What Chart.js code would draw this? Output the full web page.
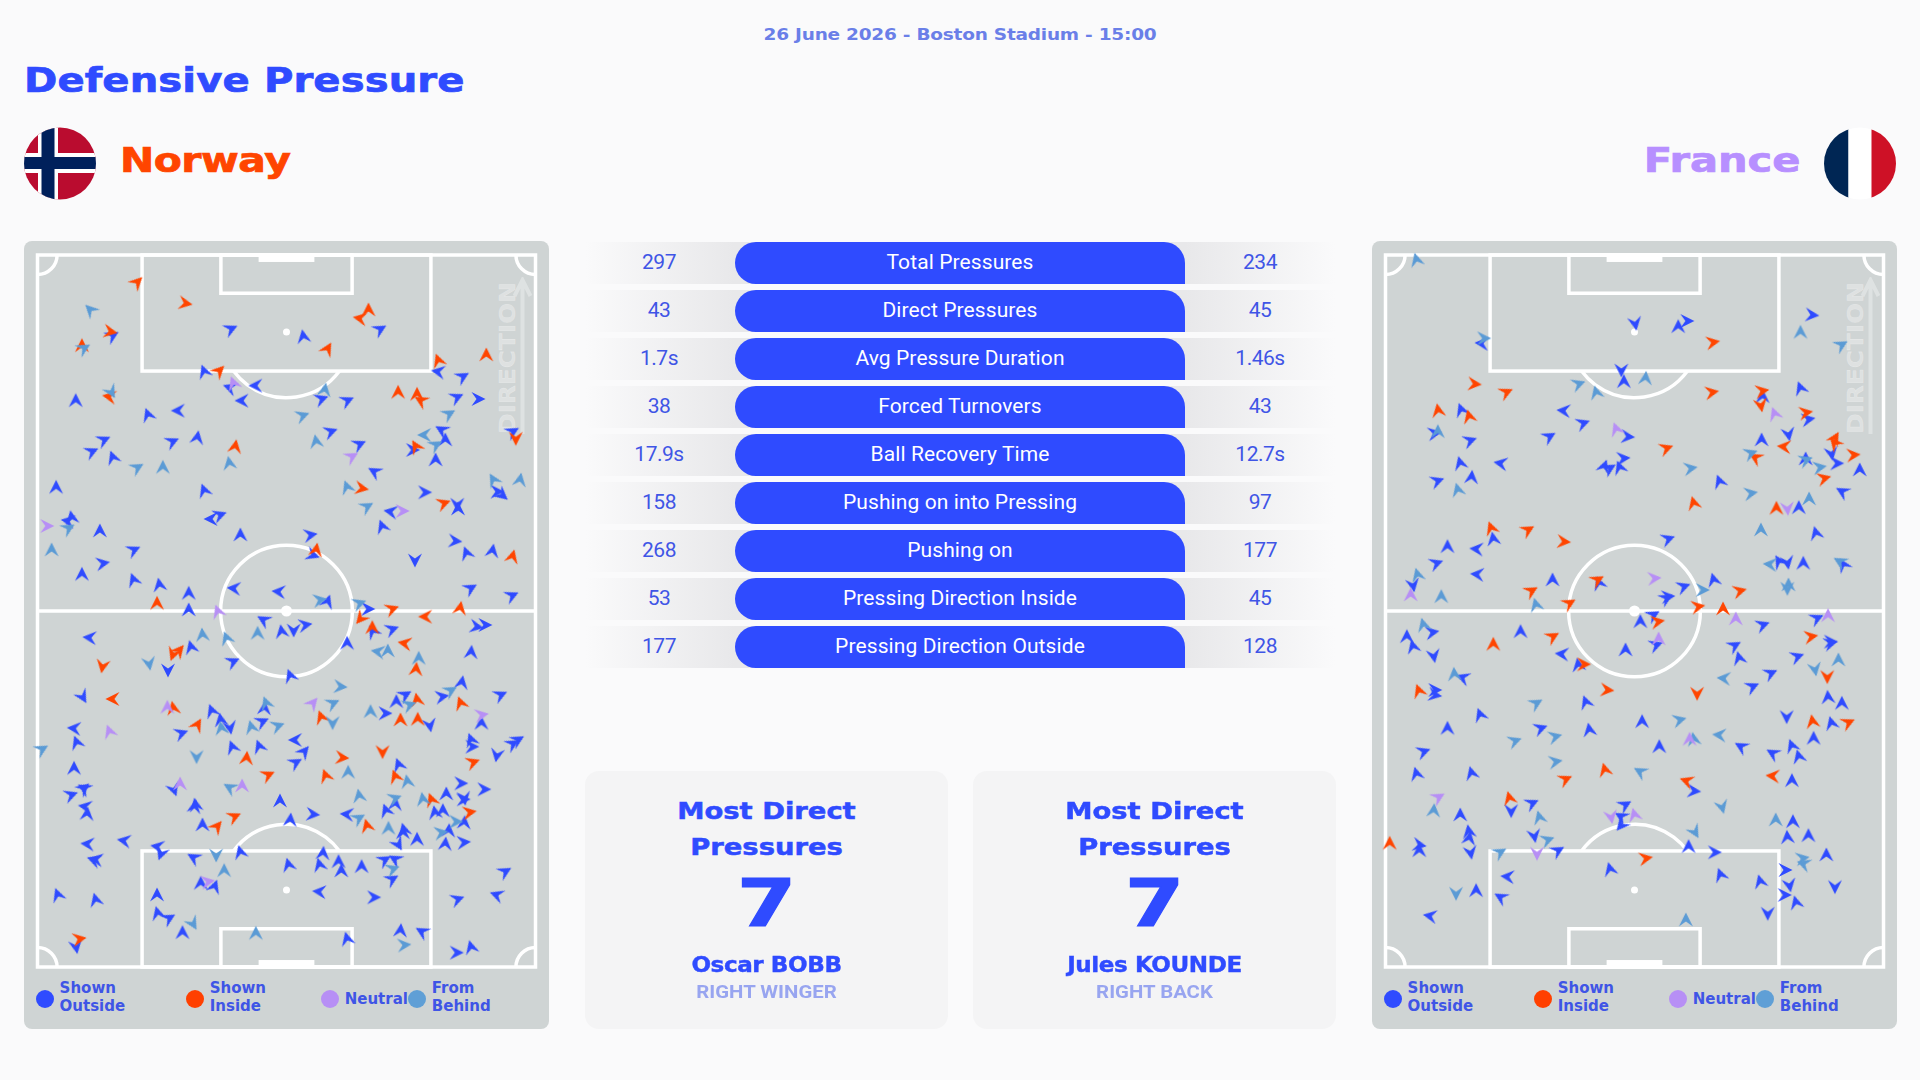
<!DOCTYPE html>
<html>
<head>
<meta charset="utf-8">
<title>Defensive Pressure</title>
<script src="https://cdn.jsdelivr.net/npm/chart.js@4"></script>
<style>
  html, body { margin: 0; width: 1920px; height: 1080px; background: #fafafb; overflow: hidden; }
  body { position: relative; font-family: "DejaVu Sans", sans-serif; color: #2f4bff; }
  .abs { position: absolute; white-space: nowrap; }
  #date { left: 0; width: 1920px; top: 23.5px; line-height: 22px; text-align: center; font-size: 16.5px; font-weight: 700; color: #6a7fe8; letter-spacing: -0.2px; transform: scaleX(1.12); }
  #title { left: 24px; top: 58px; line-height: 44px; font-size: 34px; font-weight: 700; letter-spacing: 0.1px; transform: scaleX(1.18); transform-origin: left; -webkit-text-stroke: 0.7px #2f4bff; }
  .team { top: 139px; line-height: 44px; font-size: 33px; font-weight: 700; }
  #teamA { left: 120px; color: #ff4500; letter-spacing: -0.4px; transform: scaleX(1.24); transform-origin: left; -webkit-text-stroke: 0.7px #ff4500; }
  #teamB { right: 120px; color: #b78fff; transform: scaleX(1.26); transform-origin: right; -webkit-text-stroke: 0.7px #b78fff; }
  .flag { position: absolute; top: 127px; width: 72px; height: 73px; }
  .panel { position: absolute; top: 241px; width: 525px; height: 788px; background: #cfd4d4; border-radius: 8px; }
  .panel canvas { position: absolute; left: 0; top: 0; }
  .dir { position: absolute; left: 409px; top: 107px; width: 150px; height: 20px; line-height: 20px; text-align: center; font-size: 22px; font-weight: 700; color: rgba(255,255,255,0.32); -webkit-text-stroke: 0.5px rgba(255,255,255,0.32); transform: rotate(-90deg) scaleX(1.11); white-space: nowrap; letter-spacing: 0.2px; }
  .dirArrow { position: absolute; left: 489px; top: 36px; }
  .lg { position: absolute; font-size: 15px; line-height: 18px; font-weight: 700; color: #3f55e6; white-space: nowrap; }
  .dot { position: absolute; width: 18px; height: 18px; border-radius: 50%; top: 749px; }
  .row { position: absolute; left: 585px; width: 750px; height: 42px;
    background: linear-gradient(90deg, rgba(232,232,234,0) 0, #e8e8ea 150px, #e8e8ea 600px, rgba(232,232,234,0) 750px); }
  .pill { position: absolute; left: 150px; width: 450px; height: 42px; background: #2f4bff; color: #fff; text-align: center; border-radius: 21px 21px 0 21px; font: 400 21px/40px Roboto, sans-serif; letter-spacing: 0.1px; }
  .val { position: absolute; width: 100px; text-align: center; font: 400 21px/40px Roboto, sans-serif; color: #3f55e6; letter-spacing: -0.5px; }
  .card { position: absolute; top: 771px; width: 363px; height: 258px; background: #f4f4f5; border-radius: 14px; text-align: center; }
  .card div { position: absolute; left: 0; width: 100%; white-space: nowrap; }
  .cHead { font-size: 23px; font-weight: 700; line-height: 36px; transform: scaleX(1.19); -webkit-text-stroke: 0.5px #2f4bff; }
  .cNum { top: 88px; font: 700 66px/90px "DejaVu Sans", sans-serif; transform: scaleX(1.3); -webkit-text-stroke: 1px #2f4bff; }
  .cName { top: 179px; line-height: 30px; font-size: 21px; font-weight: 700; letter-spacing: -0.4px; transform: scaleX(1.1); -webkit-text-stroke: 0.4px #2f4bff; }
  .cRole { top: 209px; font: 700 18px/24px Roboto, sans-serif; color: #98a5f0; transform: scaleX(1.13); }
</style>
</head>
<body>
<div class="abs" id="date">26 June 2026 - Boston Stadium - 15:00</div>
<div class="abs" id="title">Defensive Pressure</div>

<svg class="flag" style="left:24px" viewBox="0 0 72 73">
  <defs><clipPath id="flagA"><circle cx="36" cy="36.5" r="36"/></clipPath></defs>
  <g clip-path="url(#flagA)">
    <rect width="72" height="73" fill="#ba0c2f"/>
    <rect x="14" width="20" height="73" fill="#fff"/>
    <rect y="26" width="72" height="20" fill="#fff"/>
    <rect x="17.5" width="13" height="73" fill="#00205b"/>
    <rect y="30" width="72" height="12" fill="#00205b"/>
  </g>
</svg>
<div class="abs team" id="teamA">Norway</div>
<div class="abs team" id="teamB">France</div>
<svg class="flag" style="left:1824px" viewBox="0 0 72 73">
  <defs><clipPath id="flagB"><circle cx="36" cy="36.5" r="36"/></clipPath></defs>
  <g clip-path="url(#flagB)">
    <rect width="24.5" height="73" fill="#002654"/>
    <rect x="24.5" width="23" height="73" fill="#fff"/>
    <rect x="47.5" width="24.5" height="73" fill="#ce1126"/>
  </g>
</svg>

<div class="panel" id="panelA" style="left:24px"></div>
<div class="panel" id="panelB" style="left:1372px"></div>
<div id="stats"></div>
<div id="cards"></div>

<script>
const statLabels = ["Total Pressures", "Direct Pressures", "Avg Pressure Duration", "Forced Turnovers", "Ball Recovery Time", "Pushing on into Pressing", "Pushing on", "Pressing Direction Inside", "Pressing Direction Outside"];
const norwayStats = ["297", "43", "1.7s", "38", "17.9s", "158", "268", "53", "177"];
const franceStats = ["234", "45", "1.46s", "43", "12.7s", "97", "177", "45", "128"];

const cardNames = ["Oscar BOBB", "Jules KOUNDE"];
const cardRoles = ["RIGHT WINGER", "RIGHT BACK"];
const cardValues = ["7", "7"];

const legendLabels = [["Shown", "Outside"], ["Shown", "Inside"], ["Neutral"], ["From", "Behind"]];
const legendColors = ["#2f4bff", "#ff4000", "#b78ff5", "#5f9fd6"];

// readings are [x, y, direction in degrees], x and y measured on the pitch grid below
const pitchLength = [60, 2196];
const norwayWidth = [51, 1497];
const franceWidth = [45, 1491];

const norwayOutside = [
  [612,282,65],[823,305,350],[1045,283,60],[268,302,60],[535,410,340],[685,452,270],[610,458,290],[1215,410,280],[1285,425,60],[645,497,270],
  [875,492,70],[950,497,65],[1268,487,65],[1330,492,90],[162,497,0],[372,540,340],[460,527,270],[515,608,10],[442,620,65],[243,615,65],
  [208,650,65],[270,668,340],[902,590,70],[985,628,65],[1225,585,300],[1235,615,0],[1140,645,90],[1207,675,0],[1030,710,300],[1430,590,60],
  [105,757,0],[535,767,340],[1175,772,90],[1385,770,90],[1400,780,130],[1270,808,180],[1272,822,0],[1077,830,280],[580,840,70],[555,852,270],
  [150,848,350],[140,858,280],[1052,875,340],[640,900,0],[843,900,80],[232,888,0],[1263,918,95],[330,945,65],[850,960,110],[1297,955,340],
  [1372,948,10],[1147,975,180],[240,985,80],[180,1018,0],[330,1035,340],[405,1050,350],[1308,1060,60],[622,1060,275],[752,1070,275],[490,1075,0],
  [893,1100,20],[1428,1082,65],[490,1125,0],[1010,1122,90],[708,1155,300],[1080,1183,70],[760,1190,350],[795,1185,180],[828,1170,80],[1025,1190,330],
  [950,1225,0],[1350,1170,90],[1325,1175,100],[203,1208,275],
  [497,1237,345],[430,1305,180],[618,1280,65],[785,1323,340],[1310,1252,5],[182,1385,150],[1283,1343,10],[1225,1385,80],[1118,1380,60],[1093,1400,0],
  [1395,1380,65],[557,1428,340],[583,1455,350],[610,1477,170],[710,1420,5],[703,1460,65],[158,1480,275],[165,1523,340],[468,1495,70],[1060,1435,90],
  [1190,1470,170],[1340,1465,0],[800,1515,270],[825,1550,40],[800,1583,60],[617,1537,340],[695,1535,340],[1310,1515,340],[1312,1535,90],[1445,1515,60],
  [1430,1527,60],[1385,1560,190],[1100,1590,340],[157,1600,0],[1280,1645,90],[185,1660,50],[187,1660,300],[148,1680,70],[1347,1663,90],[447,1663,160],
  [507,1715,10],[510,1710,350],[755,1698,0],[1238,1677,0],[1290,1690,170],[1287,1693,90],[190,1715,280],[195,1737,5],[1090,1707,5],[1063,1727,340],
  [1205,1733,350],[1228,1727,0],[850,1738,95],[950,1738,275],[785,1755,5],[530,1770,0],[1115,1785,345],[1112,1793,0],[1153,1813,0],[1245,1787,5],
  [1290,1763,5],[1235,1827,5],[1288,1822,85],[1098,1827,150],[197,1827,275],[303,1817,280],[222,1873,280],[215,1875,290],[400,1835,280],[410,1855,200],
  [505,1868,300],[640,1852,345],[880,1855,5],[870,1890,345],[780,1890,345],[925,1880,0],[933,1908,0],[992,1895,0],[1058,1875,60],[1090,1873,300],
  [1080,1933,60],[525,1945,0],[565,1955,20],[1408,1910,60],[870,1970,275],[1027,1987,90],[398,1980,0],[1270,1993,70],[1385,1980,290],[110,1980,340],
  [220,1995,345],[400,2035,345],[432,2050,60],[472,2093,0],[1105,2087,5],[1168,2090,300],[950,2112,345],[1310,2137,345],[1267,2153,90],[163,2135,170]
];
const norwayInside = [
  [340,142,45],[480,205,100],[1012,225,0],[988,250,280],[262,290,100],[180,332,0],[893,342,30],[1215,377,340],[1354,360,0],[578,408,45],
  [260,485,280],[1098,472,0],[1153,478,0],[1165,497,300],[1440,610,180],[625,635,10],[1150,635,330],[992,760,100],[1230,805,70],[860,945,10],
  [1430,965,15],[398,1105,0],[1278,1120,10],[1080,1122,70],[1178,1145,270],[990,1150,220],[1023,1178,0],[1118,1225,280],
  [445,1257,200],[462,1247,40],[240,1293,190],[270,1392,270],[445,1420,350],[515,1470,30],[1153,1395,350],[1280,1405,340],[875,1447,340],[1105,1455,0],
  [1155,1453,0],[1053,1550,180],[658,1570,5],[935,1568,95],[720,1620,65],[1315,1582,70],[888,1623,340],[1090,1625,340],[1195,1695,340],[1305,1732,80],
  [622,1745,65],[572,1775,40],[1008,1773,345],[172,2112,80],[1150,1303,5]
];
const norwayNeutral = [
  [620,445,340],[963,665,60],[1110,828,90],[78,873,90],[575,1130,340],
  [850,1405,40],[1340,1440,80],[428,1417,0],[260,1490,340],[465,1647,0],[645,1653,0],[545,1940,80]
];
const norwayBehind = [
  [205,225,315],[185,340,60],[265,470,150],[885,465,10],[820,542,70],[1245,537,60],[1175,600,270],[1207,630,60],[860,620,350],[340,698,60],
  [415,697,0],[608,685,350],[950,757,340],[1007,815,60],[1375,735,330],[1452,735,10],[140,880,60],[92,945,0],[870,1095,80],[985,1105,70],
  [690,1195,0],[600,1210,340],[530,1200,355],
  [1040,1250,280],[1068,1248,0],[1158,1270,0],[375,1285,170],[930,1355,95],[1250,1367,60],[908,1405,65],[715,1405,340],[1130,1410,70],[1018,1430,0],
  [908,1463,180],[672,1477,345],[748,1473,70],[585,1480,350],[63,1543,60],[513,1565,180],[953,1612,0],[1125,1640,350],[985,1683,350],[610,1658,300],
  [1088,1690,70],[1170,1693,350],[983,1750,60],[1265,1760,90],[1070,1780,0],[1222,1793,80],[570,1860,180],[593,1907,0],[1082,1902,70],[502,2065,150],
  [685,2095,0],[1115,2130,85]
];

const franceOutside = [
  [1283,240,95],[770,265,170],[920,258,90],[895,275,0],[325,325,275],[730,405,180],[737,440,0],[1250,460,340],[1140,485,0],[265,525,340],
  [563,527,275],[618,565,70],[1272,553,80],[520,605,60],[748,605,95],[187,595,80],[290,617,70],[1215,597,170],[1137,615,0],[1340,655,170],
  [1355,685,90],[1265,672,0],[735,670,85],[680,695,20],[695,700,60],[725,698,340],[262,685,345],[380,685,280],[295,727,5],[195,738,70],
  [1422,705,0],[1015,740,340],[1372,770,300],[1245,818,0],[1295,895,345],[865,912,70],[225,935,0],[310,942,275],[358,912,350],[1188,980,330],
  [1212,982,170],[1258,985,0],[1375,990,330],[192,985,70],[312,1018,275],[530,1035,0],[125,1050,170],[665,1045,340],[998,1035,345],[910,1055,70],
  [865,1085,85],[860,1090,60],[822,1140,60],[785,1160,0],[1140,1170,70],[1297,1150,65],[180,1192,80],[437,1190,0],[1337,1220,90],[107,1205,0],
  [1058,1232,60],
  [125,1235,345],[185,1262,170],[558,1257,275],[605,1290,350],[742,1245,0],[830,1230,70],[1072,1270,345],[1240,1265,70],[1337,1225,75],[270,1328,290],
  [188,1365,90],[188,1380,100],[1163,1315,65],[1110,1355,65],[1330,1387,355],[1370,1405,0],[627,1402,340],[320,1440,340],[225,1480,0],[1210,1445,180],
  [790,1460,0],[495,1480,70],[637,1485,350],[1340,1465,345],[155,1550,70],[1288,1510,0],[840,1535,0],[1225,1533,340],[1078,1535,300],[1170,1555,300],
  [1245,1565,345],[135,1617,345],[295,1615,345],[1225,1637,0],[940,1668,95],[740,1710,60],[262,1740,0],[470,1705,65],[410,1727,180],[730,1745,300],
  [730,1770,220],[287,1790,350],[288,1810,10],[1228,1760,0],[1212,1807,355],[1273,1802,0],[477,1802,170],[143,1830,100],[143,1847,0],[545,1847,60],
  [292,1852,170],[925,1835,0],[1000,1852,90],[1325,1860,0],[697,1903,345],[1205,1905,90],[400,1925,275],[1018,1920,340],[1133,1940,345],[1218,1950,170],
  [1350,1955,180],[308,1967,0],[380,1987,300],[1203,1980,90],[1237,2003,345],[1155,2035,180],[175,2043,280]
];
const franceInside = [
  [995,322,80],[303,447,95],[395,472,65],[992,472,80],[1138,468,80],[1135,510,170],[1265,533,80],[198,527,350],[288,545,345],[1350,610,30],
  [1350,625,320],[860,640,70],[1203,635,275],[1403,660,85],[1120,668,300],[1318,730,75],[940,805,345],[1180,820,0],[352,880,340],[458,885,60],
  [562,920,95],[660,1035,60],[468,1068,60],[578,1105,60],[952,1115,80],[1073,1068,75],[1025,1122,0],[835,1160,80],[530,1205,60],[358,1228,0],
  [1280,1205,80],
  [620,1288,90],[142,1368,340],[688,1365,95],[950,1375,180],[1328,1325,180],[1285,1460,350],[1388,1463,65],[682,1605,345],[567,1633,65],[1170,1623,275],
  [920,1638,290],[405,1690,345],[57,1825,0],[800,1870,80]
];
const franceNeutral = [
  [1175,537,340],[715,583,340],[1212,820,175],[825,1030,85],[118,1080,0],[1330,1142,0],[1062,1152,0],[838,1212,0],
  [198,1687,60],[928,1513,0],[700,1745,170],[768,1740,345],[485,1855,180]
];
const franceBehind = [
  [135,75,345],[330,310,90],[1250,292,0],[1368,330,60],[605,447,70],[657,473,345],[800,430,5],[197,590,0],[1105,655,70],[1265,675,70],
  [1305,697,80],[930,700,80],[255,765,345],[1105,775,80],[1275,792,0],[1135,885,0],[138,1020,345],[1162,988,275],[1365,980,300],[207,1085,0],
  [1215,1050,0],[1212,1060,180],[965,1065,90],[482,1110,345],[155,1170,345],
  [245,1318,355],[1028,1330,275],[1292,1302,170],[1360,1275,0],[482,1405,60],[898,1455,75],[537,1505,75],[420,1518,70],[1015,1500,275],[538,1580,80],
  [785,1610,300],[1022,1715,165],[185,1727,5],[492,1748,345],[1178,1755,0],[943,1790,150],[515,1815,70],[377,1852,60],[1255,1870,80],[1260,1887,290],
  [940,1513,350],[917,2055,0],[250,1975,180]
];

const seriesColors = { outside: "#2f4bff", inside: "#ff4500", neutral: "#b78ff5", behind: "#5b9bd5" };

// arrowhead marker, tip up, so the point rotation gives the direction
function arrowMarker(color) {
  const c = document.createElement("canvas");
  c.width = 20;
  c.height = 20;
  const g = c.getContext("2d");
  g.translate(10, 10);
  g.fillStyle = color;
  g.beginPath();
  g.moveTo(0, -7.4);
  g.lineTo(7, 6.4);
  g.lineTo(0, 1.4);
  g.lineTo(-7, 6.4);
  g.closePath();
  g.fill();
  return c;
}

function arrowDataset(rows, color, order) {
  return {
    data: rows.map((r) => ({ x: r[0], y: r[1] })),
    pointStyle: arrowMarker(color),
    pointRadius: 8,
    pointRotation: rows.map((r) => r[2]),
    showLine: false,
    clip: false,
    order
  };
}

// white pitch lines, placed through the chart scales
const pitchLines = {
  id: "pitchLines",
  beforeDatasetsDraw(chart) {
    const { ctx, chartArea: a } = chart;
    const w = a.right - a.left;
    const h = a.bottom - a.top;
    const cx = a.left + w / 2;
    const boxW = w * 0.58, boxD = h * 0.163;
    const sixW = w * 0.2635, sixD = h * 0.0537;
    const goalW = w * 0.112, goalD = h * 0.0098;
    const spot = h * 0.108, r = h * 0.0925, corner = h * 0.0275;
    ctx.save();
    ctx.strokeStyle = "#fff";
    ctx.fillStyle = "#fff";
    ctx.lineWidth = 3.5;
    ctx.strokeRect(a.left, a.top, w, h);
    ctx.beginPath();
    ctx.moveTo(a.left, a.top + h / 2);
    ctx.lineTo(a.right, a.top + h / 2);
    ctx.moveTo(cx + r, a.top + h / 2);
    ctx.arc(cx, a.top + h / 2, r, 0, Math.PI * 2);
    ctx.stroke();
    ctx.strokeRect(cx - boxW / 2, a.top, boxW, boxD);
    ctx.strokeRect(cx - boxW / 2, a.bottom - boxD, boxW, boxD);
    ctx.strokeRect(cx - sixW / 2, a.top, sixW, sixD);
    ctx.strokeRect(cx - sixW / 2, a.bottom - sixD, sixW, sixD);
    ctx.fillRect(cx - goalW / 2, a.top, goalW, goalD);
    ctx.fillRect(cx - goalW / 2, a.bottom - goalD, goalW, goalD);
    const t = Math.acos((boxD - spot) / r);
    ctx.beginPath();
    ctx.arc(cx, a.top + spot, r, Math.PI / 2 - t, Math.PI / 2 + t);
    ctx.stroke();
    ctx.beginPath();
    ctx.arc(cx, a.bottom - spot, r, -Math.PI / 2 - t, -Math.PI / 2 + t);
    ctx.stroke();
    ctx.beginPath();
    ctx.arc(a.left, a.top, corner, 0, Math.PI / 2);
    ctx.stroke();
    ctx.beginPath();
    ctx.arc(a.right, a.top, corner, Math.PI / 2, Math.PI);
    ctx.stroke();
    ctx.beginPath();
    ctx.arc(a.left, a.bottom, corner, -Math.PI / 2, 0);
    ctx.stroke();
    ctx.beginPath();
    ctx.arc(a.right, a.bottom, corner, Math.PI, Math.PI * 1.5);
    ctx.stroke();
    ctx.beginPath();
    ctx.arc(cx, a.top + h / 2, 5.5, 0, Math.PI * 2);
    ctx.moveTo(cx + 3.5, a.top + spot);
    ctx.arc(cx, a.top + spot, 3.5, 0, Math.PI * 2);
    ctx.moveTo(cx + 3.5, a.bottom - spot);
    ctx.arc(cx, a.bottom - spot, 3.5, 0, Math.PI * 2);
    ctx.fill();
    ctx.restore();
  }
};

function buildPanel(panelId, xRange, outside, inside, neutral, behind) {
  const panel = document.getElementById(panelId);
  panel.innerHTML =
    '<div class="dir">DIRECTION</div>' +
    '<svg class="dirArrow" width="20" height="158"><path d="M9.5 157V3M1.5 19L9.5 3L17.5 19" fill="none" stroke="rgba(255,255,255,0.32)" stroke-width="4"/></svg>';

  const offsets = [[11.8, 35.6], [161.6, 185.7], [296.6, 320.7], [384, 407.8]];
  legendLabels.forEach((lines, i) => {
    const dot = document.createElement("div");
    dot.className = "dot";
    dot.style.left = offsets[i][0] + "px";
    dot.style.background = legendColors[i];
    panel.appendChild(dot);
    const label = document.createElement("div");
    label.className = "lg";
    label.style.left = offsets[i][1] + "px";
    label.style.top = (lines.length > 1 ? 738 : 749) + "px";
    label.innerHTML = lines.join("<br>");
    panel.appendChild(label);
  });

  const canvas = document.createElement("canvas");
  canvas.width = 525;
  canvas.height = 788;
  panel.appendChild(canvas);

  new Chart(canvas, {
    type: "scatter",
    data: {
      datasets: [
        arrowDataset(outside, seriesColors.outside, 4),
        arrowDataset(inside, seriesColors.inside, 3),
        arrowDataset(behind, seriesColors.behind, 2),
        arrowDataset(neutral, seriesColors.neutral, 1)
      ]
    },
    options: {
      responsive: false,
      animation: false,
      layout: { padding: { left: 13.5, right: 13.5, top: 14, bottom: 62 } },
      plugins: { legend: { display: false }, tooltip: { enabled: false } },
      scales: {
        x: { type: "linear", display: false, min: xRange[0], max: xRange[1] },
        y: { type: "linear", display: false, reverse: true, min: pitchLength[0], max: pitchLength[1] }
      }
    },
    plugins: [pitchLines]
  });
}

buildPanel("panelA", norwayWidth, norwayOutside, norwayInside, norwayNeutral, norwayBehind);
buildPanel("panelB", franceWidth, franceOutside, franceInside, franceNeutral, franceBehind);

const stats = document.getElementById("stats");
statLabels.forEach((label, i) => {
  const row = document.createElement("div");
  row.className = "row";
  row.style.top = 241.5 + i * 48 + "px";
  row.innerHTML =
    '<div class="val" style="left:24px">' + norwayStats[i] + "</div>" +
    '<div class="pill">' + label + "</div>" +
    '<div class="val" style="left:625px">' + franceStats[i] + "</div>";
  stats.appendChild(row);
});

const cards = document.getElementById("cards");
cardNames.forEach((name, i) => {
  const card = document.createElement("div");
  card.className = "card";
  card.style.left = (i === 0 ? 585 : 972.5) + "px";
  card.innerHTML =
    '<div class="cHead" style="top:22px">Most Direct</div>' +
    '<div class="cHead" style="top:58px">Pressures</div>' +
    '<div class="cNum">' + cardValues[i] + "</div>" +
    '<div class="cName">' + name + "</div>" +
    '<div class="cRole">' + cardRoles[i] + "</div>";
  cards.appendChild(card);
});
</script>
</body>
</html>
